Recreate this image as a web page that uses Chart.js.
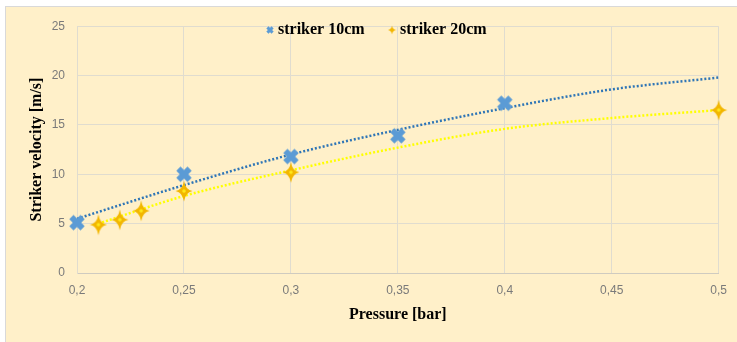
<!DOCTYPE html>
<html>
<head>
<meta charset="utf-8">
<script src="https://cdn.jsdelivr.net/npm/chart.js@4.4.0/dist/chart.umd.min.js"></script>
<style>
  html, body { margin: 0; padding: 0; background: #ffffff; }
  #frame {
    position: absolute; left: 5px; top: 6px; width: 731px; height: 335px;
    background: #fff0c9; border-left: 1px solid #d9d9d9; border-top: 1px solid #d9d9d9;
  }
  #chart { display: block; }
</style>
</head>
<body>
<div id="frame"><canvas id="chart" width="731" height="335"></canvas></div>
<script>
// measured points
const pressure10 = [0.2, 0.25, 0.3, 0.35, 0.4];
const velocity10 = [5.1, 10.0, 11.8, 13.9, 17.2];
const pressure20 = [0.21, 0.22, 0.23, 0.25, 0.3, 0.5];
const velocity20 = [4.9, 5.4, 6.3, 8.3, 10.2, 16.5];

// trend lines
const trendPressure10 = [0.2, 0.25, 0.3, 0.35, 0.4, 0.45, 0.5];
const trendVelocity10 = [5.5, 8.9, 12.0, 14.5, 16.7, 18.6, 19.8];
const trendPressure20 = [0.21, 0.25, 0.3, 0.35, 0.4, 0.45, 0.5];
const trendVelocity20 = [5.0, 7.8, 10.4, 12.7, 14.6, 15.7, 16.5];

const xTickLabels = ["0,2", "0,25", "0,3", "0,35", "0,4", "0,45", "0,5"];
const yTickLabels = ["0", "5", "10", "15", "20", "25"];
const seriesNames = ["striker 10cm", "striker 20cm"];

const blue = "#5b9bd5";
const gold = "#f2b600";

function makeCross(size, half, width) {
  const c = document.createElement("canvas");
  c.width = c.height = size;
  const g = c.getContext("2d");
  const m = size / 2;
  g.strokeStyle = blue;
  g.lineWidth = width;
  g.lineCap = "butt";
  g.beginPath();
  g.moveTo(m - half, m - half);
  g.lineTo(m + half, m + half);
  g.moveTo(m + half, m - half);
  g.lineTo(m - half, m + half);
  g.stroke();
  return c;
}

function makeStar(w, h, k, dot) {
  const c = document.createElement("canvas");
  c.width = w;
  c.height = h;
  const g = c.getContext("2d");
  const cx = w / 2, cy = h / 2, rx = w / 2 - 0.5, ry = h / 2 - 0.5;
  g.fillStyle = gold;
  g.beginPath();
  g.moveTo(cx, cy - ry);
  g.quadraticCurveTo(cx + rx * k, cy - ry * k, cx + rx, cy);
  g.quadraticCurveTo(cx + rx * k, cy + ry * k, cx, cy + ry);
  g.quadraticCurveTo(cx - rx * k, cy + ry * k, cx - rx, cy);
  g.quadraticCurveTo(cx - rx * k, cy - ry * k, cx, cy - ry);
  g.fill();
  if (dot) {
    g.fillStyle = "#ffe81a";
    g.beginPath();
    g.arc(cx, cy, dot, 0, Math.PI * 2);
    g.fill();
  }
  return c;
}

const crossBig = makeCross(20, 5.6, 6);
const crossSmall = makeCross(10, 2.6, 3);
const starBig = makeStar(18, 22, 0.14, 1.8);
const starSmall = makeStar(9, 10, 0.14, 0);

const toPoints = (xs, ys) => xs.map((x, i) => ({ x, y: ys[i] }));

// legend sits inside the plot, drawn by hand
const insideLegend = {
  id: "insideLegend",
  afterDraw(chart) {
    const ctx = chart.ctx;
    ctx.save();
    ctx.font = "bold 16px 'Liberation Serif'";
    ctx.fillStyle = "#000";
    ctx.textBaseline = "middle";
    const y = 23;
    ctx.drawImage(crossSmall, 264 - 5, y - 5);
    ctx.fillText(seriesNames[0], 272, y);
    ctx.drawImage(starSmall, 386 - 4.5, y - 5);
    ctx.fillText(seriesNames[1], 394, y);
    ctx.restore();
  },
};

new Chart(document.getElementById("chart"), {
  type: "scatter",
  data: {
    datasets: [
      {
        label: seriesNames[0],
        data: toPoints(pressure10, velocity10),
        pointStyle: crossBig,
        pointRadius: 9,
        order: 1,
        clip: false,
      },
      {
        label: seriesNames[1],
        data: toPoints(pressure20, velocity20),
        pointStyle: starBig,
        pointRadius: 9,
        order: 1,
        clip: false,
      },
      {
        label: "trend 10cm",
        data: toPoints(trendPressure10, trendVelocity10),
        showLine: true,
        borderColor: "#2e75b6",
        borderWidth: 2.5,
        borderDash: [2, 2],
        cubicInterpolationMode: "monotone",
        pointRadius: 0,
        order: 2,
      },
      {
        label: "trend 20cm",
        data: toPoints(trendPressure20, trendVelocity20),
        showLine: true,
        borderColor: "#ffff00",
        borderWidth: 2.5,
        borderDash: [2, 2],
        cubicInterpolationMode: "monotone",
        pointRadius: 0,
        order: 2,
      },
    ],
  },
  options: {
    responsive: false,
    animation: false,
    events: [],
    layout: { padding: { top: 16, right: 17, bottom: 0, left: 0 } },
    plugins: {
      legend: { display: false },
      tooltip: { enabled: false },
    },
    scales: {
      x: {
        type: "linear",
        min: 0.2,
        max: 0.5,
        afterBuildTicks(scale) {
          scale.ticks = xTickLabels.map((_, i) => ({ value: 0.2 + i * 0.05 }));
        },
        afterFit(scale) { scale.height = 69; },
        grid: { color: "#e0dccf", drawTicks: false },
        border: { color: "#cfcbc0" },
        ticks: {
          padding: 10,
          color: "#7a7a7a",
          font: { family: "'Liberation Sans'", size: 12 },
          callback: (v, i) => xTickLabels[i],
        },
        title: {
          display: true,
          text: "Pressure [bar]",
          color: "#000",
          font: { family: "'Liberation Serif'", size: 16, weight: "bold" },
          padding: { top: 0, bottom: 18 },
        },
      },
      y: {
        min: 0,
        max: 25,
        ticks: {
          stepSize: 5,
          padding: 12,
          color: "#7a7a7a",
          font: { family: "'Liberation Sans'", size: 12 },
          callback: (v, i) => yTickLabels[i],
        },
        afterFit(scale) { scale.width = 71; },
        grid: { color: "#e0dccf", drawTicks: false },
        border: { color: "#e0dccf" },
        title: {
          display: true,
          text: "Striker velocity [m/s]",
          color: "#000",
          font: { family: "'Liberation Serif'", size: 16, weight: "bold" },
          padding: { top: 21, bottom: 0 },
        },
      },
    },
  },
  plugins: [insideLegend],
});
</script>
</body>
</html>
